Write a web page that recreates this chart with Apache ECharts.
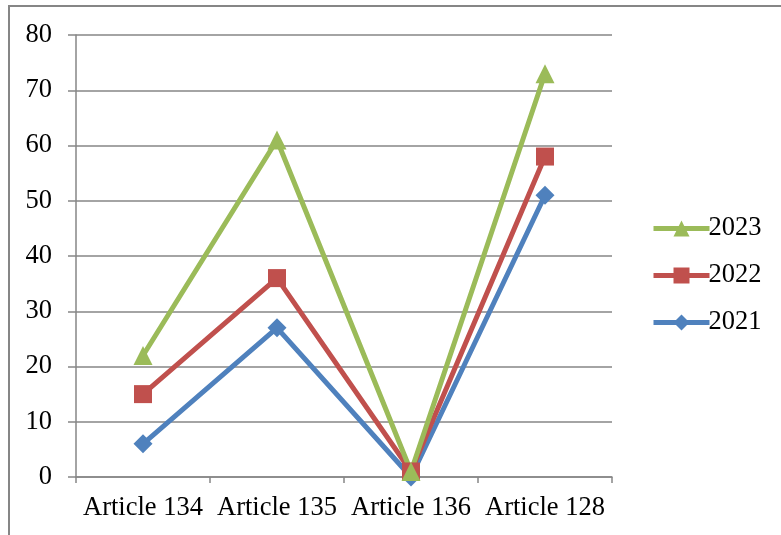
<!DOCTYPE html>
<html><head><meta charset="utf-8">
<script src="https://cdn.jsdelivr.net/npm/echarts@6/dist/echarts.min.js"></script>
<style>html,body{margin:0;padding:0;background:#fff}#c{width:781px;height:535px}</style>
</head><body><div id="c"></div>
<script>
const categories = ['Article 134', 'Article 135', 'Article 136', 'Article 128'];
const s2021 = [6, 27, 0, 51];
const s2022 = [15, 36, 1, 58];
const s2023 = [22, 61, 1, 73];
const legendOrder = ['2023', '2022', '2021'];
const yTicks = {min: 0, max: 80, interval: 10};

const font = 'Liberation Serif';
const chart = echarts.init(document.getElementById('c'));
const mk = (name, data, color, symbol, size) => ({
  name, type: 'line', data, symbol, symbolSize: size, showSymbol: true,
  lineStyle: {color, width: 5}, itemStyle: {color}, animation: false
});
chart.setOption({
  animation: false,
  textStyle: {fontFamily: font},
  graphic: [{type: 'rect', shape: {x: 9, y: 6, width: 900, height: 700},
    style: {fill: 'none', stroke: '#868686', lineWidth: 2}, silent: true}],
  grid: {left: 76, right: 169, top: 35, bottom: 58, containLabel: false},
  legend: {
    data: legendOrder, orient: 'vertical', left: 646, top: 210, itemGap: 20,
    itemWidth: 56, itemHeight: 20,
    lineStyle: {width: 5},
    textStyle: {fontFamily: font, fontSize: 26.5, color: '#000', padding: [0,0,0,-6]}
  },
  xAxis: {
    type: 'category', data: categories, boundaryGap: true,
    axisLine: {lineStyle: {color: '#868686', width: 1.5}},
    axisTick: {show: true, length: 6, lineStyle: {color: '#868686', width: 1.5}},
    axisLabel: {fontFamily: font, fontSize: 26.5, color: '#000', margin: 18, interval: 0}
  },
  yAxis: {
    type: 'value', min: yTicks.min, max: yTicks.max, interval: yTicks.interval,
    axisLine: {show: true, lineStyle: {color: '#868686', width: 1.5}},
    axisTick: {show: true, length: 8, lineStyle: {color: '#868686', width: 1.5}},
    splitLine: {lineStyle: {color: '#868686', width: 1.5}},
    axisLabel: {fontFamily: font, fontSize: 26.5, color: '#000', margin: 24}
  },
  series: [
    mk('2021', s2021, '#4F81BD', 'diamond', 19),
    mk('2022', s2022, '#C0504D', 'rect', 18),
    mk('2023', s2023, '#9BBB59', 'triangle', 19)
  ]
});
</script></body></html>
